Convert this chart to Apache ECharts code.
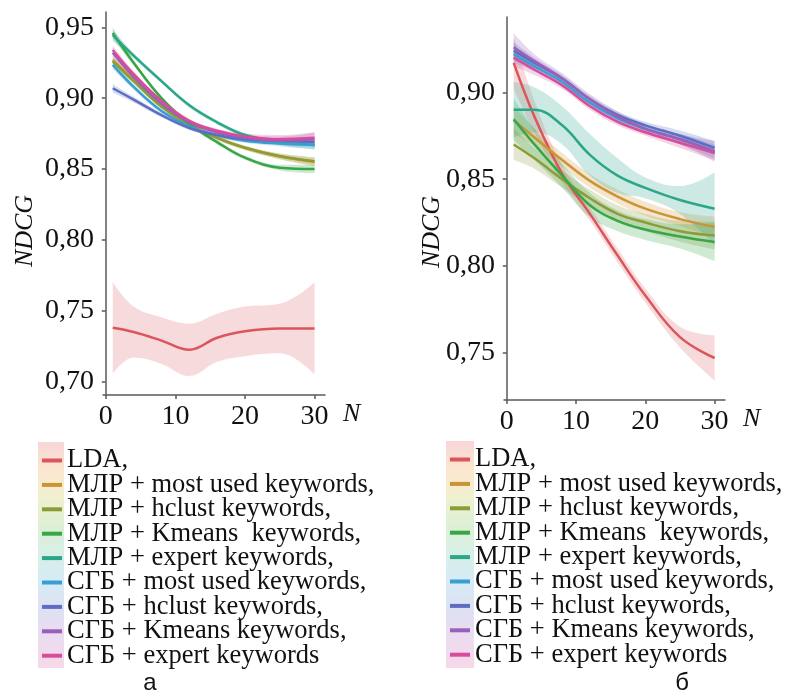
<!DOCTYPE html>
<html>
<head>
	<meta charset="utf-8">
	<title>NDCG</title>
	<script type="text/javascript" src="https://cdn.jsdelivr.net/npm/echarts@6.0.0/dist/echarts.min.js"></script>
	<style>
		html, body { margin: 0; padding: 0; background: #fff; }
		#chart { width: 786px; height: 690px; }
	</style>
</head>
<body>
<div id="chart"></div>
<script type="text/javascript">
	var N = [1, 4, 8, 12, 16, 20, 25, 30];

	var names = ['LDA,', 'МЛР + most used keywords,', 'МЛР + hclust keywords,', 'МЛР + Kmeans  keywords,',
		'МЛР + expert keywords,', 'СГБ + most used keywords,', 'СГБ + hclust keywords,',
		'СГБ + Kmeans keywords,', 'СГБ + expert keywords'];
	var colors = ['#dc555a', '#cc9434', '#8c9c36', '#38a646', '#2aa688', '#379fd2', '#5d6ec2', '#9a5fb8', '#d94c9c'];

	var yTicksA = [0.70, 0.75, 0.80, 0.85, 0.90, 0.95];
	var yTicksB = [0.75, 0.80, 0.85, 0.90];
	var xTicks = [0, 10, 20, 30];

	// panel а: means and half-width of the confidence band
	var meansA = [
		[0.738, 0.735, 0.729, 0.7225, 0.731, 0.7355, 0.7375, 0.7375],
		[0.927, 0.913, 0.895, 0.882, 0.872, 0.865, 0.859, 0.855],
		[0.926, 0.912, 0.894, 0.881, 0.872, 0.865, 0.859, 0.8555],
		[0.946, 0.925, 0.900, 0.882, 0.869, 0.858, 0.851, 0.850],
		[0.9445, 0.930, 0.912, 0.895, 0.883, 0.874, 0.869, 0.867],
		[0.9235, 0.908, 0.891, 0.880, 0.874, 0.870, 0.868, 0.867],
		[0.907, 0.899, 0.888, 0.879, 0.874, 0.871, 0.870, 0.869],
		[0.932, 0.915, 0.896, 0.883, 0.876, 0.872, 0.870, 0.871],
		[0.934, 0.917, 0.898, 0.884, 0.877, 0.873, 0.871, 0.872]
	];
	var bandA = [
		[0.0325, 0.018, 0.0165, 0.0185, 0.017, 0.0175, 0.0175, 0.0325],
		[0.003, 0.002, 0.0015, 0.0015, 0.0015, 0.0015, 0.002, 0.003],
		[0.003, 0.002, 0.0015, 0.0015, 0.0015, 0.0015, 0.002, 0.003],
		[0.004, 0.002, 0.0015, 0.0015, 0.0015, 0.0015, 0.002, 0.003],
		[0.004, 0.002, 0.0015, 0.0015, 0.0015, 0.0015, 0.002, 0.003],
		[0.003, 0.002, 0.0015, 0.0015, 0.0015, 0.0015, 0.002, 0.003],
		[0.003, 0.002, 0.0015, 0.0015, 0.0015, 0.0015, 0.002, 0.003],
		[0.003, 0.002, 0.0015, 0.0015, 0.0015, 0.002, 0.003, 0.005],
		[0.003, 0.002, 0.0015, 0.0015, 0.0015, 0.002, 0.003, 0.004]
	];

	// panel б
	var meansB = [
		[0.917, 0.886, 0.853, 0.830, 0.806, 0.783, 0.759, 0.747],
		[0.884, 0.874, 0.861, 0.849, 0.840, 0.833, 0.827, 0.8225],
		[0.870, 0.862, 0.850, 0.839, 0.830, 0.825, 0.820, 0.8175],
		[0.8845, 0.870, 0.852, 0.835, 0.826, 0.821, 0.817, 0.8138],
		[0.890, 0.890, 0.881, 0.864, 0.852, 0.845, 0.838, 0.833],
		[0.922, 0.915, 0.906, 0.894, 0.885, 0.879, 0.873, 0.866],
		[0.924, 0.917, 0.908, 0.896, 0.887, 0.881, 0.875, 0.868],
		[0.926, 0.918, 0.908, 0.896, 0.886, 0.879, 0.873, 0.866],
		[0.920, 0.913, 0.904, 0.892, 0.883, 0.877, 0.871, 0.865]
	];
	var bandB = [
		[0.015, 0.009, 0.005, 0.004, 0.004, 0.004, 0.006, 0.013],
		[0.008, 0.005, 0.004, 0.004, 0.004, 0.004, 0.004, 0.006],
		[0.009, 0.006, 0.005, 0.005, 0.005, 0.005, 0.006, 0.008],
		[0.012, 0.009, 0.007, 0.007, 0.006, 0.006, 0.007, 0.011],
		[0.016, 0.013, 0.011, 0.012, 0.010, 0.006, 0.008, 0.021],
		[0.005, 0.003, 0.002, 0.002, 0.002, 0.002, 0.003, 0.004],
		[0.005, 0.003, 0.002, 0.002, 0.002, 0.002, 0.003, 0.004],
		[0.008, 0.004, 0.003, 0.003, 0.003, 0.003, 0.003, 0.006],
		[0.005, 0.003, 0.002, 0.002, 0.002, 0.002, 0.003, 0.004]
	];

	var serif = '"Liberation Serif", "Times New Roman", serif';

	function rgba(hex, a) {
		var r = parseInt(hex.substr(1, 2), 16), g = parseInt(hex.substr(3, 2), 16), b = parseInt(hex.substr(5, 2), 16);
		return 'rgba(' + r + ',' + g + ',' + b + ',' + a + ')';
	}

	function buildSeries(gi, means, bands) {
		var out = [];
		// bands first so the lines sit on top; rows are [y, x] so the stack runs on y
		means.forEach(function (m, i) {
			var stack = 'band' + gi + '_' + i;
			out.push({
				type: 'line', xAxisIndex: gi, yAxisIndex: gi, stack: stack, smooth: 0.4,
				symbol: 'none', silent: true, lineStyle: { opacity: 0 },
				encode: { x: 1, y: 0 },
				data: N.map(function (n, k) { return [m[k] - bands[i][k], n]; })
			});
			out.push({
				type: 'line', xAxisIndex: gi, yAxisIndex: gi, stack: stack, smooth: 0.4,
				symbol: 'none', silent: true, lineStyle: { opacity: 0 },
				encode: { x: 1, y: 0 },
				areaStyle: { color: rgba(colors[i], i === 0 ? 0.22 : 0.24), opacity: 1 },
				data: N.map(function (n, k) { return [2 * bands[i][k], n]; })
			});
		});
		means.forEach(function (m, i) {
			out.push({
				name: names[i], type: 'line', xAxisIndex: gi, yAxisIndex: gi, smooth: 0.4,
				symbol: 'none', color: colors[i], lineStyle: { width: 2.5, color: colors[i] }, z: 3,
				data: N.map(function (n, k) { return [n, m[k]]; })
			});
		});
		return out;
	}

	function xAxisOf(gi) {
		return {
			type: 'value', gridIndex: gi, min: -0.4, max: 31.5,
			name: 'N', nameLocation: 'end', nameGap: 18,
			nameTextStyle: { fontFamily: serif, fontStyle: 'italic', fontSize: 26, color: '#111', verticalAlign: 'top', padding: [6, 0, 0, 0] },
			axisLine: { lineStyle: { color: '#5a5a5a', width: 1.5 } },
			axisTick: { length: 4, customValues: xTicks, lineStyle: { color: '#5a5a5a', width: 1.5 } },
			axisLabel: { customValues: xTicks, margin: 8, fontFamily: serif, fontSize: 28, color: '#111' },
			splitLine: { show: false }
		};
	}

	function yAxisOf(gi, min, max, ticks) {
		return {
			type: 'value', gridIndex: gi, min: min, max: max,
			axisLine: { show: true, lineStyle: { color: '#5a5a5a', width: 1.5 } },
			axisTick: { show: true, length: 4, customValues: ticks, lineStyle: { color: '#5a5a5a', width: 1.5 } },
			axisLabel: {
				customValues: ticks, margin: 9, fontFamily: serif, fontSize: 28, color: '#111',
				formatter: function (v) { return v.toFixed(2).replace('.', ','); }
			},
			splitLine: { show: false }
		};
	}

	function legendOf(left, top) {
		return {
			orient: 'vertical', left: left, top: top, padding: 0, itemGap: -2.6,
			icon: 'rect', itemWidth: 20, itemHeight: 4, selectedMode: false,
			data: names,
			textStyle: { fontFamily: serif, fontSize: 26.5, lineHeight: 24, color: '#111' }
		};
	}

	var rainbow = {
		type: 'linear', x: 0, y: 0, x2: 0, y2: 1,
		colorStops: [
			{ offset: 0, color: '#f8d6d8' }, { offset: 0.13, color: '#fbe7cf' },
			{ offset: 0.25, color: '#f0f1d0' }, { offset: 0.38, color: '#dcefd6' },
			{ offset: 0.5, color: '#d8efe8' }, { offset: 0.62, color: '#d6ebf6' },
			{ offset: 0.75, color: '#dfe0f3' }, { offset: 0.87, color: '#ecdcf0' },
			{ offset: 1, color: '#f6d9e8' }
		]
	};

	var myChart = echarts.init(document.getElementById('chart'), null, { renderer: 'canvas' });
	var option = {
		animation: false,
		backgroundColor: '#fff',
		grid: [
			{ left: 103, top: 12, width: 222, height: 383 },
			{ left: 504, top: 17, width: 221, height: 383 }
		],
		xAxis: [xAxisOf(0), xAxisOf(1)],
		yAxis: [yAxisOf(0, 0.6906, 0.9608, yTicksA), yAxisOf(1, 0.7228, 0.9434, yTicksB)],
		legend: [legendOf(42, 447), legendOf(450, 446)],
		graphic: [
			{ type: 'rect', z: -1, shape: { x: 38, y: 442, width: 26, height: 226 }, style: { fill: rainbow } },
			{ type: 'rect', z: -1, shape: { x: 446, y: 441, width: 28, height: 227 }, style: { fill: rainbow } },
			{ type: 'text', x: 25, y: 231, rotation: Math.PI / 2,
				style: { text: 'NDCG', fontFamily: serif, fontStyle: 'italic', fontSize: 26, fill: '#111', align: 'center', verticalAlign: 'middle' } },
			{ type: 'text', x: 432, y: 232, rotation: Math.PI / 2,
				style: { text: 'NDCG', fontFamily: serif, fontStyle: 'italic', fontSize: 26, fill: '#111', align: 'center', verticalAlign: 'middle' } },
			{ type: 'text', x: 150, y: 683,
				style: { text: 'а', fontFamily: '"Liberation Sans", Arial, sans-serif', fontSize: 24, fill: '#111', align: 'center', verticalAlign: 'middle' } },
			{ type: 'text', x: 682, y: 683,
				style: { text: 'б', fontFamily: '"Liberation Sans", Arial, sans-serif', fontSize: 24, fill: '#111', align: 'center', verticalAlign: 'middle' } }
		],
		series: buildSeries(0, meansA, bandA).concat(buildSeries(1, meansB, bandB))
	};
	myChart.setOption(option);
</script>
</body>
</html>
